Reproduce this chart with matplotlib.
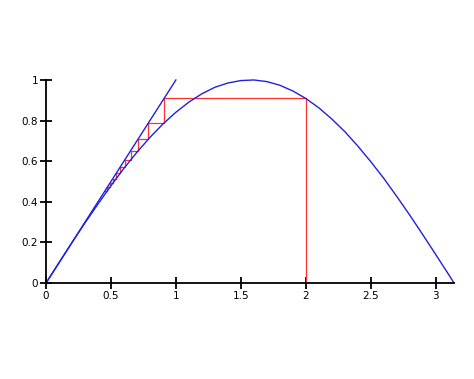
import matplotlib
matplotlib.use("Agg")
import matplotlib.pyplot as plt

# sine curve, sampled
curve_x = [0, 0.1, 0.2, 0.3, 0.4, 0.5, 0.6, 0.7, 0.8, 0.9, 1.0, 1.1, 1.2, 1.3, 1.4, 1.5,
           1.6, 1.7, 1.8, 1.9, 2.0, 2.1, 2.2, 2.3, 2.4, 2.5, 2.6, 2.7, 2.8, 2.9, 3.0, 3.1, 3.1416]
curve_y = [0, 0.100, 0.199, 0.296, 0.389, 0.479, 0.565, 0.644, 0.717, 0.783, 0.841, 0.891,
           0.932, 0.964, 0.985, 0.997, 1.000, 0.992, 0.974, 0.946, 0.909, 0.863, 0.808,
           0.746, 0.675, 0.598, 0.516, 0.427, 0.335, 0.239, 0.141, 0.042, 0]

# diagonal y = x
diag_x = [0, 1]
diag_y = [0, 1]

# iterates of the cobweb, starting at 2
iterates = [2, 0.909, 0.789, 0.710, 0.652, 0.606, 0.570, 0.540, 0.514, 0.491, 0.472, 0.455]

xticks = [0, 0.5, 1, 1.5, 2, 2.5, 3]
xticklabels = ["0", "0.5", "1", "1.5", "2", "2.5", "3"]
yticks = [0, 0.2, 0.4, 0.6, 0.8, 1]
yticklabels = ["0", "0.2", "0.4", "0.6", "0.8", "1"]

# build the cobweb path from the iterates
web_x = [iterates[0]]
web_y = [0]
for a, b in zip(iterates[:-1], iterates[1:]):
    web_x += [a, b]
    web_y += [b, b]

fig = plt.figure(figsize=(4.74, 3.79), dpi=100)
ax = fig.add_axes([0.097, 0.253, 0.861, 0.536])

ax.plot(web_x, web_y, color="#ff3030", lw=0.9, clip_on=False)
ax.plot(curve_x, curve_y, color="#2020e0", lw=1.0, clip_on=False)
ax.plot(diag_x, diag_y, color="#2020e0", lw=1.0, clip_on=False)

ax.set_xlim(0, 3.1416)
ax.set_ylim(0, 1)
for s in ["top", "right"]:
    ax.spines[s].set_visible(False)
for s in ["left", "bottom"]:
    ax.spines[s].set_linewidth(1.3)
ax.set_xticks(xticks)
ax.set_xticklabels(xticklabels)
ax.set_yticks(yticks)
ax.set_yticklabels(yticklabels)
ax.tick_params(direction="inout", length=9, width=1.3, labelsize=7.5, pad=1)

fig.savefig("out.png", dpi=100)
